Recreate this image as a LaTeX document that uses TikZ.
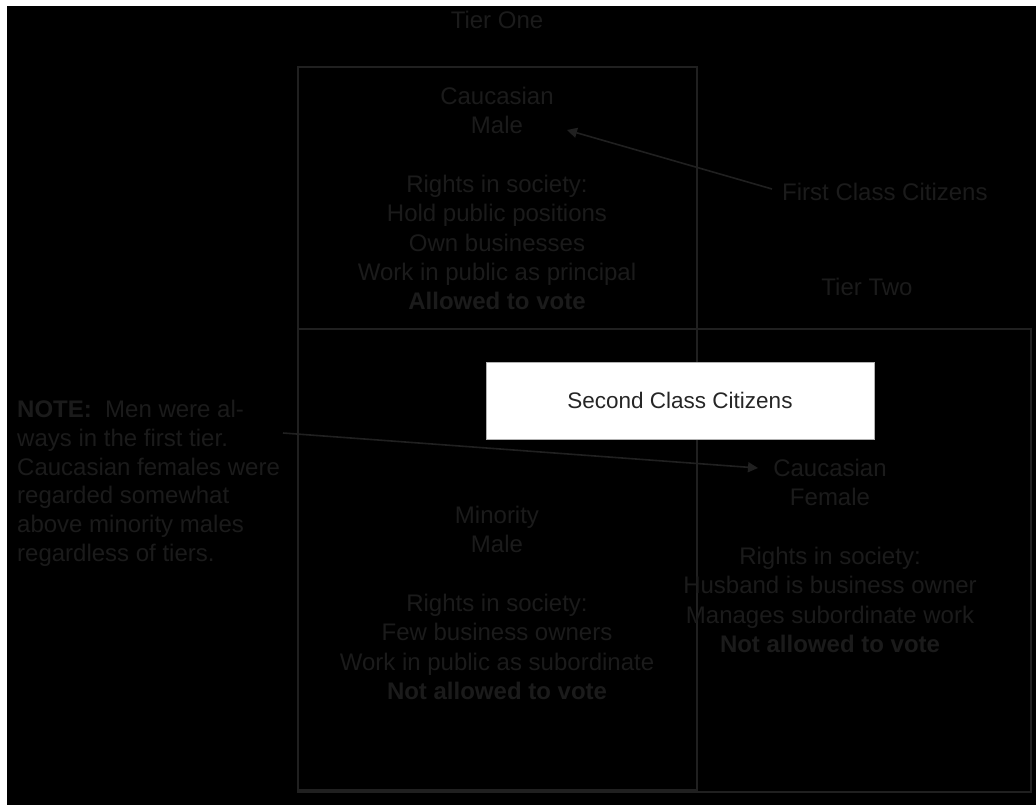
\documentclass[tikz,border=0pt]{standalone}
\usepackage{fontspec}
\setmainfont{Liberation Sans}
\usetikzlibrary{arrows.meta}
\definecolor{dimtext}{RGB}{27,27,27}
\definecolor{dimline}{RGB}{32,32,32}
\tikzset{
  dimlabel/.style={text=dimtext, font=\fontsize{24}{29.3}\selectfont, align=center, inner sep=0pt},
  notelabel/.style={text=dimtext, font=\fontsize{24}{28.8}\selectfont, align=left, inner sep=0pt, anchor=north west},
  tierbox/.style={draw=dimline, line width=1.6pt, inner sep=0pt},
  banner/.style={draw=gray!60, fill=white, line width=0.8pt, text=black!85,
    font=\fontsize{22.5}{27}\selectfont, minimum width=388pt, minimum height=77pt},
  pointer/.style={draw=dimline, line width=1.6pt, -{Triangle[length=10pt,width=10pt]}}
}
\begin{document}
\begin{tikzpicture}[x=1pt,y=-1pt]
  % page and dark panel
  \fill[white] (0,0) rectangle (1036,805);
  \fill[black] (7,6) rectangle (1036,805);
  \useasboundingbox (0,0) rectangle (1036,805);

  % tier frames
  \node[tierbox, minimum width=399pt, minimum height=723pt] (tierone) at (497.5,428.5) {};
  \node[tierbox, minimum width=733pt, minimum height=463pt] (tiertwo) at (664.5,560.5) {};

  % headings
  \node[dimlabel] (tieronelbl) at (497,20) {Tier One};
  \node[dimlabel] (tiertwolbl) at (867,287) {Tier Two};
  \node[dimlabel, anchor=west] (firstclass) at (782,192) {First Class Citizens};

  % group descriptions
  \node[dimlabel, anchor=north] (cmale) at (497,87) {Caucasian\\Male\\[29.3pt]Rights in society:\\Hold public positions\\Own businesses\\Work in public as principal\\\textbf{Allowed to vote}};
  \node[dimlabel, anchor=north] (mmale) at (497,506) {Minority\\Male\\[29.3pt]Rights in society:\\Few business owners\\Work in public as subordinate\\\textbf{Not allowed to vote}};
  \node[dimlabel, anchor=north] (cfemale) at (830,459) {Caucasian\\Female\\[29.3pt]Rights in society:\\Husband is business owner\\Manages subordinate work\\\textbf{Not allowed to vote}};

  % note on the left
  \node[notelabel] (note) at (17,400) {\textbf{NOTE:}\ \ Men were al-\\ways in the first tier.\\Caucasian females were\\regarded somewhat\\above minority males\\regardless of tiers.};

  % banner
  \node[banner] (secondclass) at (680,400.5) {Second Class Citizens};

  % pointers
  \coordinate (firstfrom) at (772,189);
  \coordinate (firstto) at (567,130);
  \coordinate (notefrom) at (283,433);
  \coordinate (noteto) at (758,468);
  \draw[pointer] (firstfrom) -- (firstto);
  \draw[pointer] (notefrom) -- (noteto);
\end{tikzpicture}
\end{document}
